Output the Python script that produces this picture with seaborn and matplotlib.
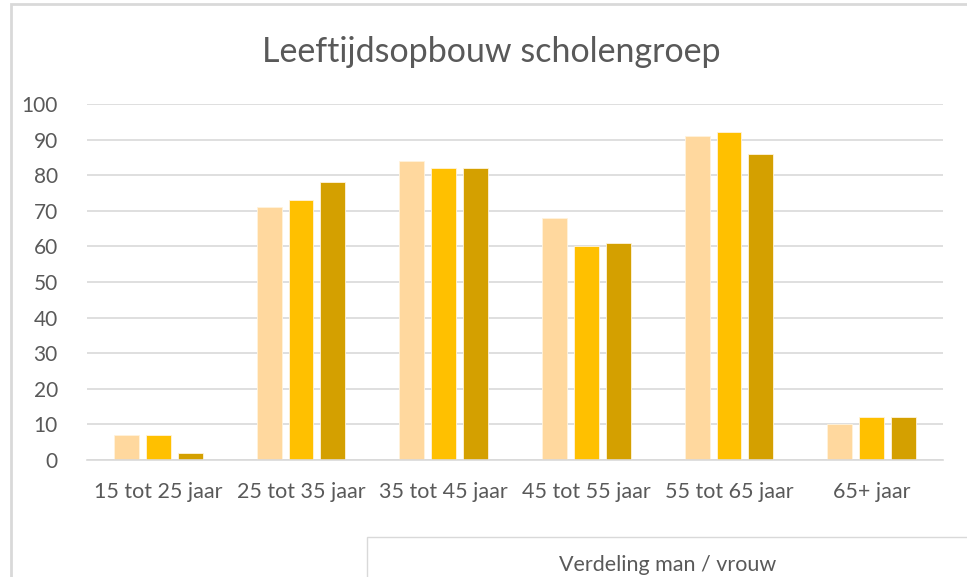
import pandas as pd
import matplotlib.pyplot as plt
import seaborn as sns
from matplotlib.patches import Rectangle

# Data
categories = ['15 tot 25 jaar', '25 tot 35 jaar', '35 tot 45 jaar',
              '45 tot 55 jaar', '55 tot 65 jaar', '65+ jaar']
series_names = ['Reeks1', 'Reeks2', 'Reeks3']
reeks1 = [7, 71, 84, 68, 91, 10]
reeks2 = [7, 73, 82, 60, 92, 12]
reeks3 = [2, 78, 82, 61, 86, 12]
y_ticks = [0, 10, 20, 30, 40, 50, 60, 70, 80, 90, 100]

colors = ['#FFD89E', '#FFC000', '#D4A000']
text_color = '#595959'
grid_color = '#D9D9D9'

df = pd.DataFrame({
    'categorie': categories * 3,
    'reeks': [s for s in series_names for _ in categories],
    'aantal': reeks1 + reeks2 + reeks3,
})

sns.set_style('white')
plt.rcParams['font.family'] = ['Lato', 'DejaVu Sans']

fig = plt.figure(figsize=(9.67, 5.77), dpi=100)
ax = fig.add_axes([87 / 967, 117 / 577, 856 / 967, 356 / 577])

sns.barplot(data=df, x='categorie', y='aantal', hue='reeks', order=categories,
            hue_order=series_names, palette=colors, saturation=1,
            width=0.67, gap=0.22, edgecolor='#FFF3DC', linewidth=0.6,
            legend=False, ax=ax)

ax.set_ylim(0, 100)
ax.set_xlim(-0.5, len(categories) - 0.5)
ax.set_yticks(y_ticks)
ax.yaxis.grid(True, color=grid_color, linewidth=1.2)
ax.set_axisbelow(True)
for side in ['top', 'right', 'left']:
    ax.spines[side].set_visible(False)
ax.spines['bottom'].set_color(grid_color)
ax.spines['bottom'].set_linewidth(1.2)
ax.tick_params(axis='x', length=0, labelsize=15.5, colors=text_color, pad=16)
ax.tick_params(axis='y', length=0, labelsize=15, colors=text_color, pad=21)
ax.set_xlabel('')
ax.set_ylabel('')

fig.text(491 / 967, 1 - 52 / 577, 'Leeftijdsopbouw scholengroep',
         ha='center', va='center', fontsize=24.5, color=text_color)

# outer chart frame and the next chart peeking in at the bottom
fig.add_artist(Rectangle((11 / 967, -0.1), 1.2, 1 - 4 / 577 + 0.1,
                         transform=fig.transFigure, fill=False,
                         edgecolor='#D9D9D9', linewidth=2))
fig.add_artist(Rectangle((367 / 967, -0.1), 1.0, 40 / 577 + 0.1,
                         transform=fig.transFigure, facecolor='white',
                         edgecolor='#D9D9D9', linewidth=1))
fig.text(668 / 967, 12 / 577, 'Verdeling man / vrouw',
         ha='center', va='center', fontsize=15.5, color=text_color)

fig.savefig('out.png', dpi=100)
